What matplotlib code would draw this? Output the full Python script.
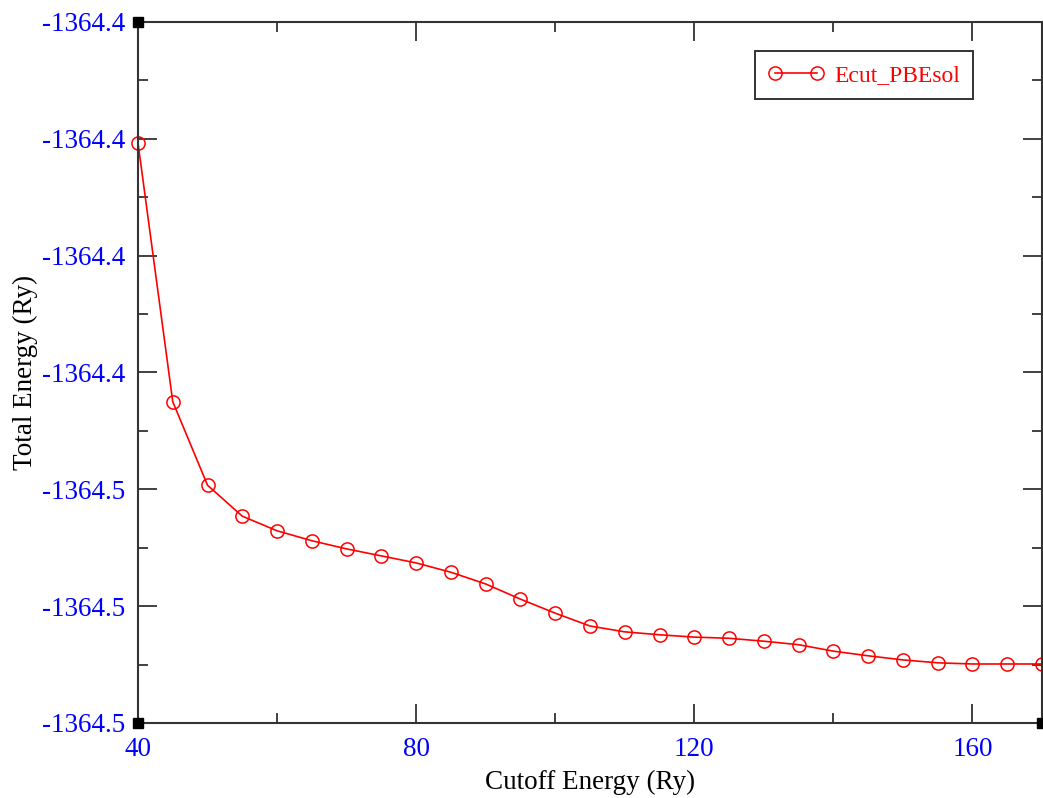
import matplotlib.pyplot as plt
from matplotlib.ticker import MultipleLocator, FormatStrFormatter

plt.rcParams['font.family'] = ['Liberation Serif', 'DejaVu Serif']

# cutoff scan (Ry) and total energies (Ry)
ecut = [40, 45, 50, 55, 60, 65, 70, 75, 80, 85, 90, 95, 100, 105, 110,
        115, 120, 125, 130, 135, 140, 145, 150, 155, 160, 165, 170]
etot = [-1364.4007, -1364.4450, -1364.4593, -1364.4646, -1364.4671,
        -1364.4688, -1364.4702, -1364.4714, -1364.4726, -1364.4742,
        -1364.4762, -1364.4788, -1364.4812, -1364.4834, -1364.4844,
        -1364.4849, -1364.4853, -1364.4855, -1364.4860, -1364.4866,
        -1364.4877, -1364.4885, -1364.4892, -1364.4897, -1364.4899,
        -1364.4899, -1364.4899]

fig = plt.figure(figsize=(10.43, 7.98), dpi=100)
ax = fig.add_axes([0.1323, 0.094, 0.8667, 0.8785])

ax.plot(ecut, etot, color='red', lw=1.2, marker='o', ms=9.5,
        mfc='none', mec='red', mew=1.1, label='Ecut_PBEsol', clip_on=False)

ax.set_xlim(40, 170)
ax.set_ylim(-1364.50, -1364.38)

ax.xaxis.set_major_locator(MultipleLocator(40))
ax.xaxis.set_minor_locator(MultipleLocator(20))
ax.yaxis.set_major_locator(MultipleLocator(0.02))
ax.yaxis.set_minor_locator(MultipleLocator(0.01))
ax.yaxis.set_major_formatter(FormatStrFormatter('%.1f'))

ax.tick_params(which='both', direction='in', top=True, right=True,
               colors='#333333', labelcolor='blue', labelsize=19.5, width=1.3)
ax.tick_params(which='major', length=14)
ax.tick_params(which='minor', length=7)
ax.tick_params(axis='y', which='major', pad=9)
ax.tick_params(axis='x', which='major', pad=10)
for s in ax.spines.values():
    s.set_linewidth(1.5)
    s.set_color('#333333')

ax.set_xlabel('Cutoff Energy (Ry)', fontsize=19.5, labelpad=6)
ax.set_ylabel('Total Energy (Ry)', fontsize=19.5, labelpad=3)

# corner markers
for cx, cy in [(40, -1364.38), (40, -1364.50), (170, -1364.50)]:
    ax.plot(cx, cy, marker='s', ms=7, color='black', clip_on=False, zorder=5)

leg = ax.legend(loc='upper right', bbox_to_anchor=(0.9235, 0.958), fontsize=17,
                numpoints=2, handlelength=2.4, fancybox=False, framealpha=1,
                borderpad=0.55, handletextpad=0.4, borderaxespad=0,
                labelcolor='red')
leg.get_frame().set_edgecolor('#333333')
leg.get_frame().set_linewidth(1.4)

fig.savefig('out.png', dpi=100)
